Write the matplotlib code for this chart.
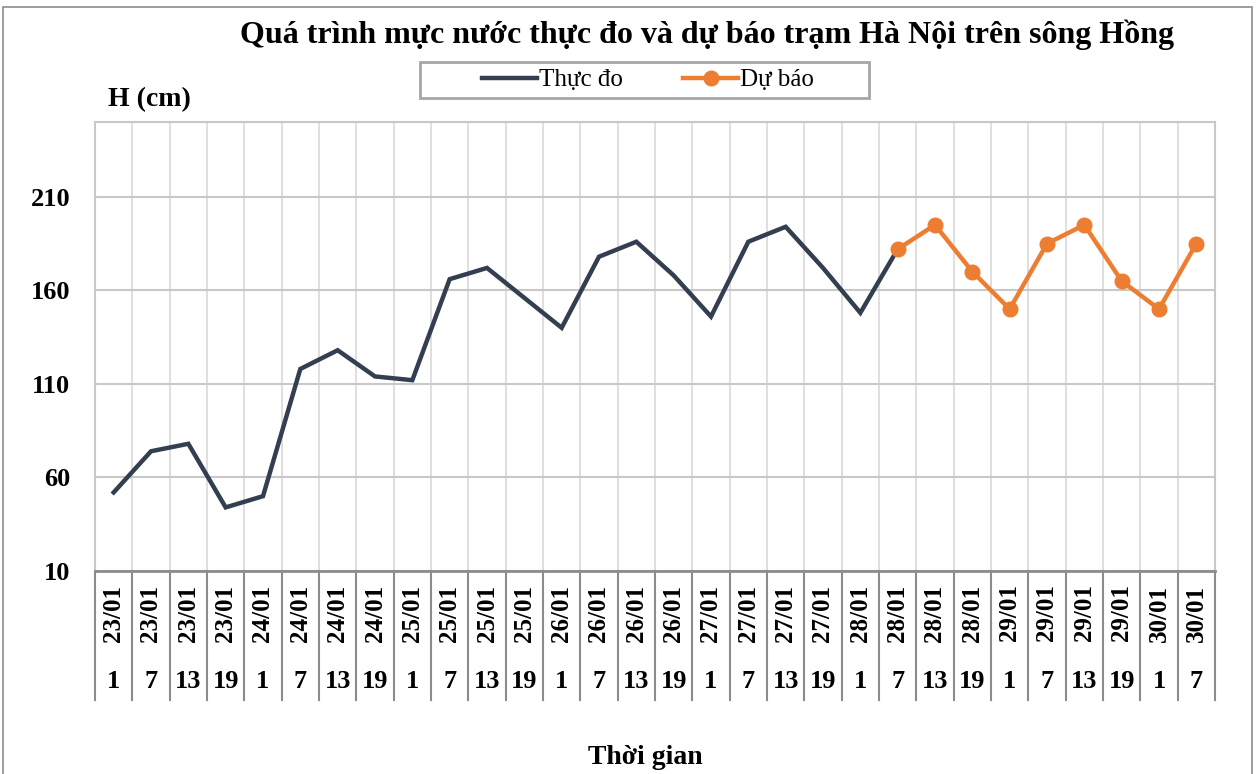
import matplotlib.pyplot as plt
import matplotlib.patches as patches
from matplotlib.lines import Line2D
import numpy as np

# du lieu doc tu bieu do
ngay = ["23/01"] * 4 + ["24/01"] * 4 + ["25/01"] * 4 + ["26/01"] * 4 + \
       ["27/01"] * 4 + ["28/01"] * 4 + ["29/01"] * 4 + ["30/01"] * 2
gio = ["1", "7", "13", "19"] * 7 + ["1", "7"]

thuc_do = [52, 74, 78, 44, 50, 118, 128, 114, 112, 166, 172, 156, 140,
           178, 186, 168, 146, 186, 194, 172, 148, 182]
du_bao = [182, 195, 170, 150, 185, 195, 165, 150, 185]

yticks = [10, 60, 110, 160, 210]

plt.rcParams['font.family'] = ['Liberation Serif', 'DejaVu Serif']

W, H = 1256, 774
fig = plt.figure(figsize=(W / 100, H / 100), dpi=100)
L, R, T, B = 95, 1215, 122, 571
ax = fig.add_axes([L / W, 1 - B / H, (R - L) / W, (B - T) / H])

n = len(ngay)
x = np.arange(n)
x_fc = np.arange(len(thuc_do) - 1, len(thuc_do) - 1 + len(du_bao))

ax.plot(x[:len(thuc_do)], thuc_do, color='#333f50', lw=3.2, solid_joinstyle='miter', zorder=3)
ax.plot(x_fc, du_bao, color='#ed7d31', lw=3.2, marker='o', markersize=10.5, zorder=4)

ax.set_xlim(-0.5, n - 0.5)
ax.set_ylim(10, 250)
ax.set_yticks(yticks)
ax.set_yticklabels([str(v) for v in yticks], fontsize=19, fontweight='bold')
ax.tick_params(axis='y', length=0, pad=18)
ax.set_xticks([])
ax.set_xticks(np.arange(-0.5, n, 1), minor=True)
ax.tick_params(axis='x', which='minor', length=0)
ax.grid(True, which='minor', axis='x', color='#d9d9d9', lw=1.2)
ax.grid(True, which='major', axis='y', color='#c8c8c8', lw=1.5)
ax.set_axisbelow(True)
for s in ['left', 'right', 'top']:
    ax.spines[s].set_color('#c8c8c8')
    ax.spines[s].set_linewidth(1.5)
ax.spines['bottom'].set_color('#8c8c8c')
ax.spines['bottom'].set_linewidth(2)

# nhan truc x hai tang
trans = ax.get_xaxis_transform()
h_ax = B - T
y_end = -(700 - B) / h_ax
for b in np.arange(-0.5, n, 1):
    ax.plot([b, b], [0, y_end], transform=trans, color='#8c8c8c', lw=1.5, clip_on=False)
for i in range(n):
    ax.text(i, -(613 - B) / h_ax, ngay[i], transform=trans, rotation=90, ha='center', va='center',
            fontsize=18, fontweight='bold')
    ax.text(i, -(681 - B) / h_ax, gio[i], transform=trans, ha='center', va='center',
            fontsize=19, fontweight='bold')

fig.text(707 / W, 1 - 35 / H, "Quá trình mực nước thực đo và dự báo trạm Hà Nội trên sông Hồng",
         ha='center', va='center', fontsize=23, fontweight='bold')
fig.text(108 / W, 1 - 100 / H, "H (cm)", ha='left', va='center', fontsize=20, fontweight='bold')
fig.text(645 / W, 1 - 757 / H, "Thời gian", ha='center', va='center', fontsize=20, fontweight='bold')

handles = [Line2D([], [], color='#333f50', lw=3.2),
           Line2D([], [], color='#ed7d31', lw=3.2, marker='o', markersize=10.5)]
leg = fig.legend(handles, ["Thực đo", "Dự báo"], loc='center', bbox_to_anchor=(648 / W, 1 - 80 / H),
                 ncol=2, fontsize=18, frameon=False, handlelength=2.2,
                 handletextpad=0.1, columnspacing=2.4, borderpad=0.25)
fig.patches.append(patches.Rectangle((420 / W, 1 - 98 / H), 449 / W, 36 / H, transform=fig.transFigure,
                                     fill=False, edgecolor='#a6a6a6', lw=2))

fig.patches.append(patches.Rectangle((3 / W, -0.01), 1249 / W, 1.01 - 7 / H, transform=fig.transFigure,
                                     fill=False, edgecolor='#8c8c8c', lw=1.2))

fig.savefig("out.png", dpi=100)
